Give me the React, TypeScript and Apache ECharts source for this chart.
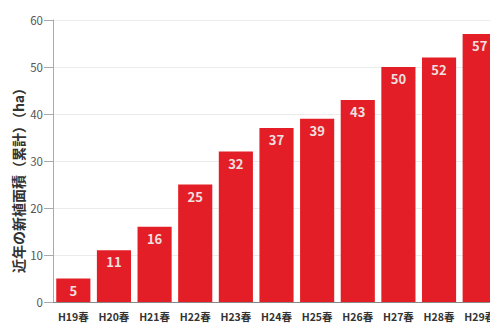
import React, { useEffect, useRef } from "react";
import * as echarts from "echarts";

const categories = ["H19春", "H20春", "H21春", "H22春", "H23春", "H24春", "H25春", "H26春", "H27春", "H28春", "H29春"];
const values = [5, 11, 16, 25, 32, 37, 39, 43, 50, 52, 57];
const yTitle = "近年の新植面積（累計）（ha）";

export default function App() {
  const ref = useRef<HTMLDivElement>(null);
  useEffect(() => {
    const chart = echarts.init(ref.current!, null, { renderer: "svg" });
    const font = "'Noto Sans CJK JP', 'Noto Sans', sans-serif";
    chart.setOption({
      animation: false,
      backgroundColor: "#ffffff",
      grid: { left: 53, right: 0, top: 20, bottom: 23 },
      graphic: [
        {
          type: "text",
          x: 18,
          y: 177,
          rotation: Math.PI / 2,
          style: {
            text: yTitle,
            fontFamily: font,
            fontSize: 14,
            fontWeight: "bold",
            fill: "#333",
            align: "center",
            verticalAlign: "middle",
          },
        },
      ],
      xAxis: {
        type: "category",
        data: categories,
        axisLine: { lineStyle: { color: "#888", width: 1 } },
        axisTick: { show: false },
        axisLabel: { color: "#333", fontSize: 10.5, fontWeight: "bold", fontFamily: font, margin: 9, interval: 0 },
      },
      yAxis: {
        type: "value",
        min: 0,
        max: 60,
        interval: 10,
        axisLine: { show: true, lineStyle: { color: "#aaa" } },
        axisTick: { show: true, length: 9, lineStyle: { color: "#aaa" } },
        splitLine: { show: true, lineStyle: { color: "#ececec" } },
        axisLabel: { color: "#555", fontSize: 11.5, fontFamily: font, margin: 10 },
      },
      series: [
        {
          type: "bar",
          data: values,
          barCategoryGap: "16%",
          itemStyle: { color: "#e41e26" },
          label: {
            show: true,
            position: "insideTop",
            distance: 5,
            color: "#f0e0e0",
            fontSize: 13,
            fontWeight: "bold",
            fontFamily: font,
          },
        },
      ],
    });
    return () => chart.dispose();
  }, []);
  return (
    <div style={{ position: "fixed", left: 0, top: 0, width: 490, height: 325, overflow: "hidden" }}>
      <div ref={ref} style={{ width: 500, height: 325 }} />
    </div>
  );
}
